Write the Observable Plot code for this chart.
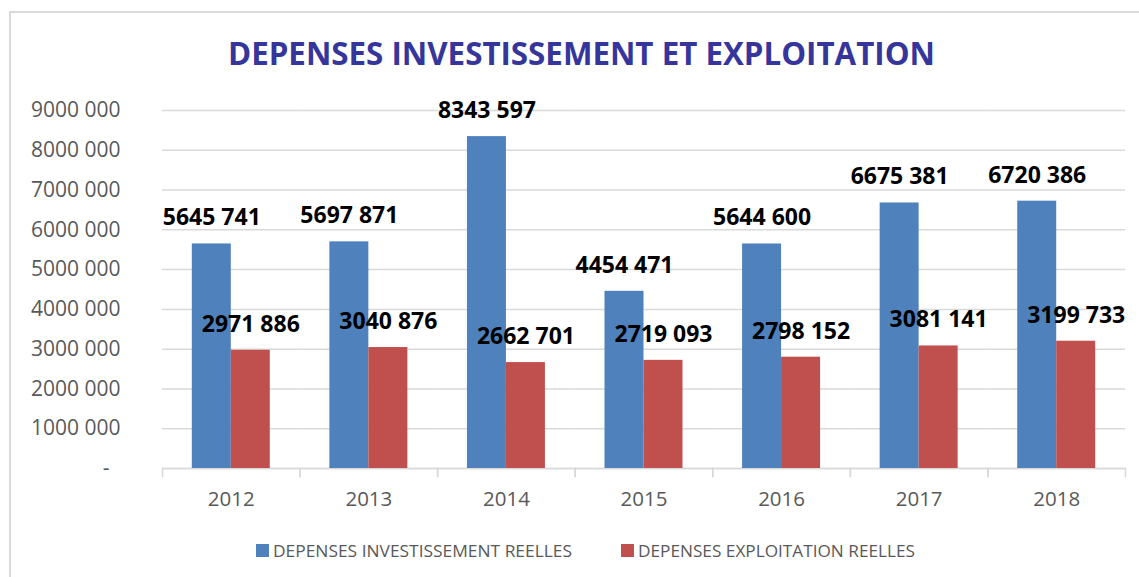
<!DOCTYPE html>
<html>
<head>
<meta charset="utf-8">
<script src="https://cdn.jsdelivr.net/npm/d3@7"></script>
<script src="https://cdn.jsdelivr.net/npm/@observablehq/plot@0.6"></script>
<style>
  body { margin: 0; background: #fff; font-family: "Open Sans", sans-serif; }
  #wrap { position: relative; width: 1139px; height: 577px; overflow: hidden; }
  #frame { position: absolute; left: 9px; top: 11px; width: 1140px; height: 580px;
           border-top: 2px solid #d9d9d9; border-left: 2px solid #d9d9d9; box-sizing: border-box; }
  #chart { position: absolute; left: 0; top: 0; }
  #title { position: absolute; top: 33px; left: 228px; white-space: nowrap;
           font-family: "Open Sans", sans-serif; font-weight: 700; font-size: 33px;
           color: #35359b; transform-origin: 0 0; line-height: 1.2; }
  .leg { position: absolute; top: 539px; display: flex; align-items: center;
         font-size: 17px; color: #595959; white-space: nowrap; }
  .leg span.sw { display: inline-block; width: 13px; height: 13px; margin-right: 4px; }
  .leg span.tx { display: inline-block; transform-origin: 0 50%; }
</style>
</head>
<body>
<div id="wrap">
  <div id="frame"></div>
  <div id="chart"></div>
  <div id="title">DEPENSES INVESTISSEMENT ET EXPLOITATION</div>
  <div id="legend"></div>
</div>
<script>
// ---- data ----
const years = ["2012", "2013", "2014", "2015", "2016", "2017", "2018"];
const investissement = [5645741, 5697871, 8343597, 4454471, 5644600, 6675381, 6720386];
const exploitation = [2971886, 3040876, 2662701, 2719093, 2798152, 3081141, 3199733];
const seriesNames = ["DEPENSES INVESTISSEMENT REELLES", "DEPENSES EXPLOITATION REELLES"];
const seriesColors = ["#4f81bd", "#c0504d"];
const yTicks = [0, 1000000, 2000000, 3000000, 4000000, 5000000, 6000000, 7000000, 8000000, 9000000];

// ---- build table ----
const seriesValues = [investissement, exploitation];
const data = years.flatMap((yr, i) => seriesNames.map((s, j) => ({year: yr, series: s, value: seriesValues[j][i]})));

const fmt = v => Math.floor(v / 1000) + " " + String(v % 1000).padStart(3, "0");
const fmtTick = v => v === 0 ? "-\u00a0\u00a0" : fmt(v);

const chart = Plot.plot({
  width: 1139,
  height: 577,
  marginTop: 110,
  marginBottom: 109,
  marginLeft: 162,
  marginRight: 14,
  style: {fontFamily: "Open Sans, sans-serif", background: "transparent", overflow: "visible"},
  fx: {domain: years, padding: 0, label: null, round: false},
  x: {domain: seriesNames, paddingInner: 0, paddingOuter: 0.764, axis: null, round: false},
  y: {domain: [0, 9000000], label: null},
  color: {domain: seriesNames, range: seriesColors},
  marks: [
    Plot.gridY(yTicks, {stroke: "#d9d9d9", strokeOpacity: 1, strokeWidth: 1.5}),
    Plot.axisY(yTicks, {tickSize: 0, tickPadding: 42, tickFormat: fmtTick, fontSize: 21, fill: "#595959", label: null}),
    Plot.ruleY([0], {stroke: "#d9d9d9", strokeWidth: 1.5}),
    Plot.frame({anchor: "left", insetTop: 358, insetBottom: -8, stroke: "#d9d9d9", strokeWidth: 1.5}),
    Plot.frame({anchor: "right", insetTop: 358, insetBottom: -8, stroke: "#d9d9d9", strokeWidth: 1.5}),
    Plot.barY(data, {fx: "year", x: "series", y: "value", fill: "series"}),
    Plot.text(data, {fx: "year", x: "series", y: "value", text: d => fmt(d.value), dy: -26,
                     fontSize: 23, fontWeight: "bold", fill: "#000"}),
    Plot.axisFx({anchor: "bottom", tickSize: 0, tickPadding: 23, fontSize: 20.5, fill: "#595959", label: null})
  ]
});
document.getElementById("chart").appendChild(chart);

// ---- legend ----
const legend = document.getElementById("legend");
const legLeft = [256, 621];
const legTextWidth = [299, 277];
seriesNames.forEach((s, i) => {
  const d = document.createElement("div");
  d.className = "leg";
  d.style.left = legLeft[i] + "px";
  d.innerHTML = `<span class="sw" style="background:${seriesColors[i]}"></span><span class="tx">${s}</span>`;
  legend.appendChild(d);
  const tx = d.querySelector(".tx");
  const w = tx.getBoundingClientRect().width;
  tx.style.transform = `scaleX(${legTextWidth[i] / w})`;
});

// ---- fit title width ----
const t = document.getElementById("title");
const w = t.getBoundingClientRect().width;
t.style.transform = `scaleX(${707 / w})`;
</script>
</body>
</html>
